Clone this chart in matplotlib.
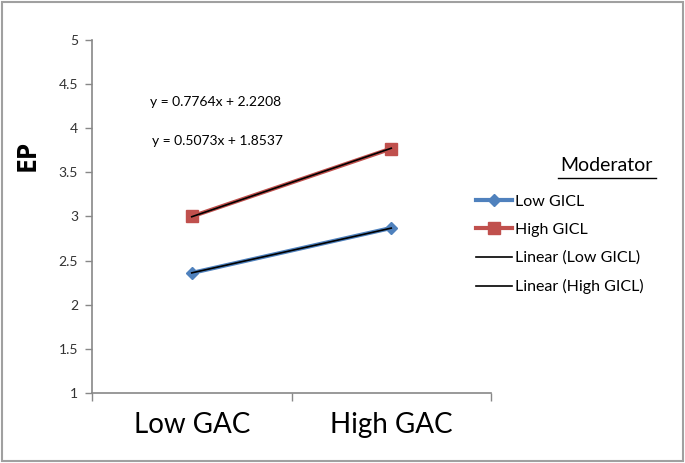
import matplotlib.pyplot as plt
from matplotlib.patches import Rectangle

plt.rcParams['font.family'] = ['Lato', 'DejaVu Sans']

categories = ['Low GAC', 'High GAC']
low_gicl = [2.36, 2.87]
high_gicl = [3.00, 3.77]
# trend line coefficients (slope, intercept), x = 1, 2
fit_low = (0.5073, 1.8537)
fit_high = (0.7764, 2.2208)
y_ticks = [1, 1.5, 2, 2.5, 3, 3.5, 4, 4.5, 5]

fig = plt.figure(figsize=(6.85, 4.63), dpi=100)
fig.patches.append(Rectangle((0.003, 0.004), 0.994, 0.991, transform=fig.transFigure,
                             fill=False, edgecolor='#a0a0a0', linewidth=1.5))
ax = fig.add_axes([0.1343, 0.1512, 0.5825, 0.7624])

x = [1, 2]
ax.plot(x, low_gicl, color='#4f81bd', lw=3, marker='D', ms=6, label='Low GICL', zorder=2)
ax.plot(x, high_gicl, color='#c0504d', lw=3, marker='s', ms=8, label='High GICL', zorder=2)
ax.plot(x, [fit_low[0] * v + fit_low[1] for v in x], color='black', lw=1.2,
        label='Linear (Low GICL)', zorder=3)
ax.plot(x, [fit_high[0] * v + fit_high[1] for v in x], color='black', lw=1.2,
        label='Linear (High GICL)', zorder=3)

ax.set_xlim(0.5, 2.5)
ax.set_ylim(1, 5)
ax.set_yticks(y_ticks)
ax.set_yticklabels([f'{t:g}' for t in y_ticks], fontsize=10, color='#333333')
ax.set_xticks([0.5, 1.5, 2.5])
ax.set_xticklabels([])
ax.set_xticks(x, minor=True)
ax.set_xticklabels(categories, minor=True, fontsize=20)
ax.tick_params(axis='x', which='minor', length=0, pad=14)
ax.tick_params(axis='x', which='major', length=6, color='#888888', width=1)
ax.tick_params(axis='y', length=5, color='#888888', width=1, pad=5)
for side in ['top', 'right']:
    ax.spines[side].set_visible(False)
for side in ['left', 'bottom']:
    ax.spines[side].set_color('#888888')
    ax.spines[side].set_linewidth(1.2)

fig.text(0.040, 0.665, 'EP', rotation=90, fontsize=19, fontweight='bold',
         family='Open Sans', ha='center', va='center')
ax.text(0.79, 4.3, f'y = {fit_high[0]:.4f}x + {fit_high[1]:.4f}', fontsize=10, va='center')
ax.text(0.80, 3.85, f'y = {fit_low[0]:.4f}x + {fit_low[1]:.4f}', fontsize=10, va='center')

leg = ax.legend(loc='upper left', bbox_to_anchor=(0.685, 0.594), bbox_transform=fig.transFigure,
                frameon=False, fontsize=11.5, handlelength=2.3, handletextpad=0.15,
                labelspacing=0.88, borderaxespad=0)
fig.text(0.885, 0.643, 'Moderator', fontsize=14, ha='center', va='center')
fig.add_artist(plt.Line2D([0.815, 0.957], [0.616, 0.616], color='black', lw=1))

fig.savefig('out.png', dpi=100)
